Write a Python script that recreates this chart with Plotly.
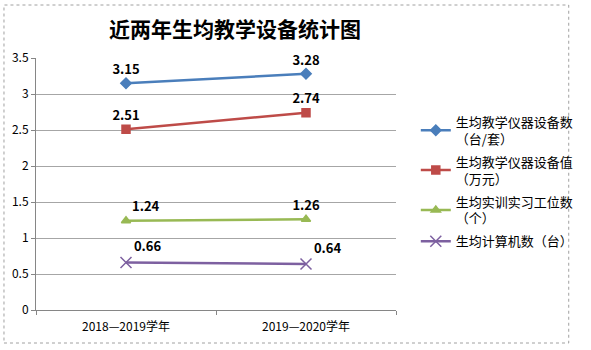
import plotly.graph_objects as go

categories = ["2018—2019学年", "2019—2020学年"]
series_names = [
    "生均教学仪器设备数<br>（台/套）",
    "生均教学仪器设备值<br>（万元）",
    "生均实训实习工位数<br>（个）",
    "生均计算机数（台）",
]
equip_count = [3.15, 3.28]
equip_value = [2.51, 2.74]
training_seats = [1.24, 1.26]
computers = [0.66, 0.64]
y_ticks = [0, 0.5, 1, 1.5, 2, 2.5, 3, 3.5]
y_tick_labels = ["0", "0.5", "1", "1.5", "2", "2.5", "3", "3.5"]

colors = ["#4A7EBB", "#BE4B48", "#98B954", "#7D60A0"]
symbols = ["diamond", "square", "triangle-up", "x-thin"]
positions = [
    ["top center", "top center"],
    ["top center", "top center"],
    ["top right", "top center"],
    ["top right", "top right"],
]
values = [equip_count, equip_value, training_seats, computers]

FONT = "Noto Sans CJK SC"

fig = go.Figure()
for i, (name, vals, col, sym, pos) in enumerate(zip(series_names, values, colors, symbols, positions)):
    fig.add_trace(go.Scatter(
        x=categories, y=vals, name=name, legendgroup=f"g{i}",
        mode="lines+markers+text",
        line=dict(color=col, width=2.5),
        marker=dict(symbol=sym, size=8 if sym != "x-thin" else 11, color=col,
                    line=dict(color=col, width=1.5)),
        text=[f"{v:.2f}" for v in vals],
        textposition=pos,
        textfont=dict(family=FONT, size=13, color="black", weight="bold"),
        cliponaxis=False,
    ))

fig.update_layout(
    width=591, height=350,
    margin=dict(l=36, r=184, t=58, b=40),
    paper_bgcolor="white", plot_bgcolor="white",
    font=dict(family=FONT, size=12, color="black"),
    title=dict(text="近两年生均教学设备统计图", x=235 / 591, xanchor="center",
               y=1 - 30 / 350, yanchor="middle", yref="container",
               font=dict(family=FONT, size=21, color="black", weight="bold")),
    showlegend=True,
    legend=dict(x=1.055, xanchor="left", y=0.806, yanchor="top",
                font=dict(family=FONT, size=13), itemwidth=30,
                traceorder="grouped", tracegroupgap=3, bgcolor="rgba(0,0,0,0)"),
    xaxis=dict(type="category", range=[-0.5, 1.5], showline=True, linecolor="#868686", linewidth=1,
               ticks="outside", tickson="boundaries", ticklen=4, tickcolor="#868686",
               showgrid=False, tickfont=dict(family=FONT, size=12), ticklabelstandoff=6),
    yaxis=dict(range=[0, 3.5], tickvals=y_ticks, ticktext=y_tick_labels,
               showline=True, linecolor="#868686", linewidth=1,
               ticks="outside", ticklen=4, tickcolor="#868686",
               showgrid=True, gridcolor="#A6A6A6", gridwidth=1,
               zeroline=False, tickfont=dict(family=FONT, size=12)),
    shapes=[dict(type="rect", xref="paper", yref="paper",
                 x0=(3 - 36) / 371, x1=(585 - 36) / 371,
                 y0=(310 - 343) / 252, y1=(310 - 5) / 252,
                 line=dict(color="#A0A0A0", width=1, dash="dot"),
                 fillcolor="rgba(0,0,0,0)", layer="below")],
)

fig.write_html("out.html")
